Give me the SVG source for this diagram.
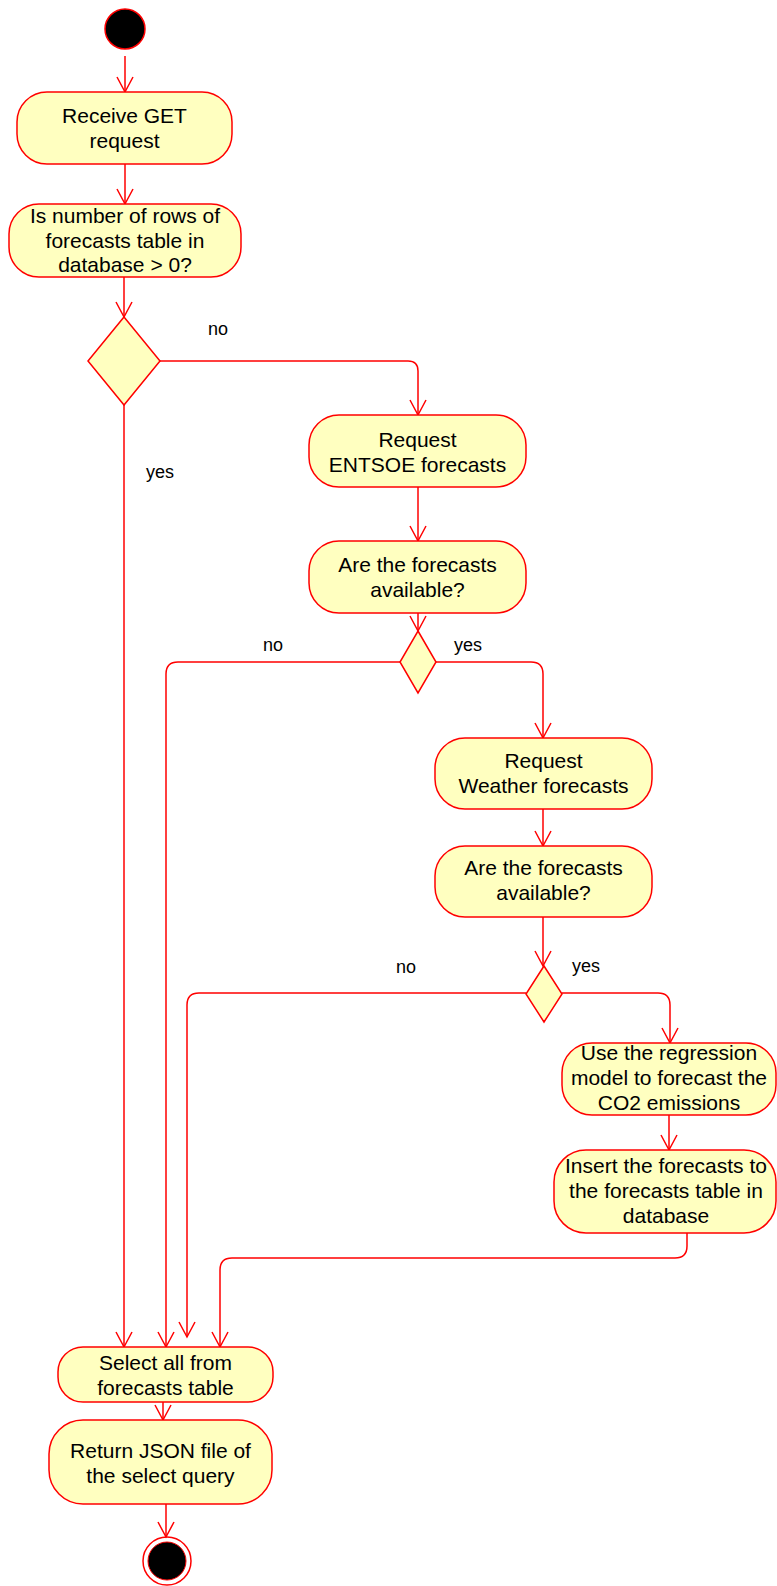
<svg xmlns="http://www.w3.org/2000/svg" width="777" height="1586" viewBox="0 0 777 1586">
<defs>
<style>
.n{fill:#FFFFC0;stroke:#FF0000;stroke-width:1.5}
.t{font-family:"Liberation Sans",Arial,Helvetica,sans-serif;font-size:21px;fill:#000;text-anchor:middle}
.l{font-family:"Liberation Sans",Arial,Helvetica,sans-serif;font-size:18px;fill:#000}
.c{fill:none;stroke:#FF0000;stroke-width:1.5}
</style>
<marker id="arr" viewBox="-17 -10 19 20" refX="0" refY="0" markerWidth="19" markerHeight="20" markerUnits="userSpaceOnUse" orient="auto">
<path d="M-15,-8 L0,0 L-15,8" fill="none" stroke="#FF0000" stroke-width="1.5"/>
</marker>
</defs>
<rect width="777" height="1586" fill="#fff"/>
<g id="connectors">
<path class="c" marker-end="url(#arr)" d="M125,56 L125,92"/>
<path class="c" marker-end="url(#arr)" d="M125,164 L125,204"/>
<path class="c" marker-end="url(#arr)" d="M124,277 L124,317"/>
<path class="c" marker-end="url(#arr)" d="M160,361 L408,361 Q418,361 418,371 L418,415"/>
<path class="c" marker-end="url(#arr)" d="M124,405 L124,1347"/>
<path class="c" marker-end="url(#arr)" d="M418,487 L418,541"/>
<path class="c" marker-end="url(#arr)" d="M418,613 L418,631"/>
<path class="c" marker-end="url(#arr)" d="M400,662 L178,662 Q166,662 166,674 L166,1347"/>
<path class="c" marker-end="url(#arr)" d="M436,662 L531,662 Q543,662 543,674 L543,738"/>
<path class="c" marker-end="url(#arr)" d="M543,809 L543,846"/>
<path class="c" marker-end="url(#arr)" d="M543,917 L543,966"/>
<path class="c" marker-end="url(#arr)" d="M526,993 L199,993 Q187,993 187,1005 L187,1337"/>
<path class="c" marker-end="url(#arr)" d="M562,993 L658,993 Q670,993 670,1005 L670,1043"/>
<path class="c" marker-end="url(#arr)" d="M669,1115 L669,1150"/>
<path class="c" marker-end="url(#arr)" d="M687,1233 L687,1246 Q687,1258 675,1258 L232,1258 Q220,1258 220,1270 L220,1347"/>
<path class="c" marker-end="url(#arr)" d="M163,1402 L163,1420"/>
<path class="c" marker-end="url(#arr)" d="M166,1504 L166,1537"/>
</g>
<g id="labels">
<text class="l" x="208" y="335">no</text>
<text class="l" x="146" y="478">yes</text>
<text class="l" x="263" y="651">no</text>
<text class="l" x="454" y="651">yes</text>
<text class="l" x="396" y="973">no</text>
<text class="l" x="572" y="972">yes</text>
</g>
<g id="start">
<circle cx="125" cy="29" r="20" fill="#000" stroke="#FF0000" stroke-width="1.5"/>
</g>
<g id="receive">
<rect class="n" x="17" y="92" width="215" height="72" rx="30"/>
<text class="t" x="124.5" y="123">Receive GET</text>
<text class="t" x="124.5" y="148">request</text>
</g>
<g id="isnumber">
<rect class="n" x="9" y="204" width="232" height="73" rx="30"/>
<text class="t" x="125" y="223">Is number of rows of</text>
<text class="t" x="125" y="248">forecasts table in</text>
<text class="t" x="125" y="272">database &gt; 0?</text>
</g>
<g id="decision1">
<polygon class="n" points="124,317 160,361 124,405 88,361"/>
</g>
<g id="entsoe">
<rect class="n" x="309" y="415" width="217" height="72" rx="30"/>
<text class="t" x="417.5" y="447">Request</text>
<text class="t" x="417.5" y="472">ENTSOE forecasts</text>
</g>
<g id="available1">
<rect class="n" x="309" y="541" width="217" height="72" rx="30"/>
<text class="t" x="417.5" y="572">Are the forecasts</text>
<text class="t" x="417.5" y="597">available?</text>
</g>
<g id="decision2">
<polygon class="n" points="418,631 436,662 418,693 400,662"/>
</g>
<g id="weather">
<rect class="n" x="435" y="738" width="217" height="71" rx="30"/>
<text class="t" x="543.5" y="768">Request</text>
<text class="t" x="543.5" y="793">Weather forecasts</text>
</g>
<g id="available2">
<rect class="n" x="435" y="846" width="217" height="71" rx="30"/>
<text class="t" x="543.5" y="875">Are the forecasts</text>
<text class="t" x="543.5" y="900">available?</text>
</g>
<g id="decision3">
<polygon class="n" points="544,966 562,994 544,1022 526,994"/>
</g>
<g id="regression">
<rect class="n" x="562" y="1043" width="214" height="72" rx="30"/>
<text class="t" x="669" y="1060">Use the regression</text>
<text class="t" x="669" y="1085">model to forecast the</text>
<text class="t" x="669" y="1110">CO2 emissions</text>
</g>
<g id="insert">
<rect class="n" x="554" y="1150" width="222" height="83" rx="32"/>
<text class="t" x="666" y="1173">Insert the forecasts to</text>
<text class="t" x="666" y="1198">the forecasts table in</text>
<text class="t" x="666" y="1223">database</text>
</g>
<g id="select">
<rect class="n" x="58" y="1347" width="215" height="55" rx="25"/>
<text class="t" x="165.5" y="1370">Select all from</text>
<text class="t" x="165.5" y="1395">forecasts table</text>
</g>
<g id="return">
<rect class="n" x="49" y="1420" width="223" height="84" rx="34"/>
<text class="t" x="160.5" y="1458">Return JSON file of</text>
<text class="t" x="160.5" y="1483">the select query</text>
</g>
<g id="end">
<circle cx="167" cy="1561" r="24" fill="none" stroke="#FF0000" stroke-width="1.5"/>
<circle cx="167" cy="1561" r="19" fill="#000" stroke="#FF0000" stroke-width="1"/>
</g>
</svg>
